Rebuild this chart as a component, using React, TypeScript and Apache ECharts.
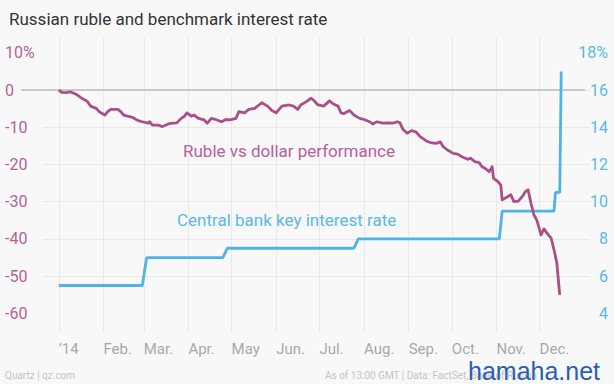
import React, { useEffect, useRef } from "react";
import * as echarts from "echarts";

const monthTickDates = [
  "2014-01-01", "2014-02-01", "2014-03-01", "2014-04-01", "2014-05-01", "2014-06-01",
  "2014-07-01", "2014-08-01", "2014-09-01", "2014-10-01", "2014-11-01", "2014-12-01",
];
const monthTickLabels = ["’14", "Feb.", "Mar.", "Apr.", "May", "Jun.", "Jul.", "Aug.", "Sep.", "Oct.", "Nov.", "Dec."];

const leftTicks = [-60, -50, -40, -30, -20, -10, 0, 10];
const rightTicks = [4, 6, 8, 10, 12, 14, 16, 18];

const rubleDates = [
  "2014-01-01", "2014-01-03", "2014-01-06", "2014-01-09", "2014-01-13", "2014-01-17", "2014-01-21", "2014-01-23",
  "2014-01-27", "2014-01-29", "2014-02-02", "2014-02-04", "2014-02-06", "2014-02-11", "2014-02-13", "2014-02-15",
  "2014-02-19", "2014-02-21", "2014-02-25", "2014-02-28", "2014-03-04", "2014-03-05", "2014-03-07", "2014-03-11",
  "2014-03-14", "2014-03-18", "2014-03-21", "2014-03-24", "2014-03-27", "2014-03-29", "2014-03-31", "2014-04-03",
  "2014-04-05", "2014-04-08", "2014-04-12", "2014-04-14", "2014-04-17", "2014-04-20", "2014-04-24", "2014-04-27",
  "2014-04-30", "2014-05-04", "2014-05-06", "2014-05-10", "2014-05-13", "2014-05-17", "2014-05-20", "2014-05-22",
  "2014-05-26", "2014-05-29", "2014-06-01", "2014-06-03", "2014-06-05", "2014-06-10", "2014-06-13", "2014-06-16",
  "2014-06-18", "2014-06-22", "2014-06-25", "2014-06-27", "2014-06-30", "2014-07-04", "2014-07-08", "2014-07-11",
  "2014-07-14", "2014-07-16", "2014-07-18", "2014-07-22", "2014-07-25", "2014-07-29", "2014-08-01", "2014-08-05",
  "2014-08-07", "2014-08-10", "2014-08-14", "2014-08-17", "2014-08-21", "2014-08-24", "2014-08-26", "2014-08-28",
  "2014-08-31", "2014-09-03", "2014-09-06", "2014-09-09", "2014-09-13", "2014-09-16", "2014-09-20", "2014-09-23",
  "2014-09-25", "2014-09-28", "2014-10-02", "2014-10-05", "2014-10-08", "2014-10-12", "2014-10-14", "2014-10-17",
  "2014-10-20", "2014-10-22", "2014-10-24", "2014-10-27", "2014-10-29", "2014-10-30", "2014-11-02", "2014-11-04",
  "2014-11-05", "2014-11-09", "2014-11-11", "2014-11-13", "2014-11-16", "2014-11-19", "2014-11-21", "2014-11-23",
  "2014-11-25", "2014-11-27", "2014-11-29", "2014-12-02", "2014-12-04", "2014-12-06", "2014-12-09", "2014-12-11",
  "2014-12-13", "2014-12-14", "2014-12-15",
];
const rubleValues = [
  0, -0.6, -0.7, -0.45, -1.1, -2.2, -3.1, -4.3,
  -4.9, -5.8, -6.7, -5.8, -5.2, -5.2, -5.8, -6.7,
  -7.1, -7.3, -8.2, -8.5, -8.9, -8.5, -9.4, -9.4,
  -9.8, -9.1, -8.9, -8.8, -7.6, -7.1, -6.1, -7.0,
  -6.7, -7.6, -8.0, -8.9, -7.6, -7.9, -8.5, -7.9,
  -8.0, -7.6, -5.8, -6.1, -5.2, -4.9, -4.0, -3.4,
  -4.3, -5.5, -6.1, -5.2, -4.3, -4.0, -4.3, -5.2,
  -4.0, -3.1, -2.2, -2.7, -4.0, -4.3, -2.9, -3.8,
  -4.3, -6.1, -6.3, -5.5, -6.7, -7.6, -7.9, -8.5,
  -9.1, -8.5, -8.9, -8.8, -8.9, -8.5, -8.8, -10.5,
  -11.6, -10.9, -11.2, -12.5, -13.6, -14.1, -14.3, -13.9,
  -15.2, -16.1, -17.0, -17.2, -17.9, -18.6, -18.3, -19.2,
  -19.5, -20.6, -21.0, -21.9, -20.6, -23.7, -24.6, -25.5,
  -29.5, -28.6, -28.1, -29.9, -29.9, -28.6, -27.3, -26.8,
  -30.4, -33.5, -34.9, -38.9, -37.3, -38.4, -39.8, -42.9,
  -46.5, -50.9, -55.0,
];

const rateDates = [
  "2014-01-01", "2014-02-28", "2014-03-03", "2014-04-25", "2014-04-28", "2014-07-25", "2014-07-28",
  "2014-11-03", "2014-11-05", "2014-12-11", "2014-12-12", "2014-12-15", "2014-12-16",
];
const rateValues = [5.5, 5.5, 7.0, 7.0, 7.5, 7.5, 8.0, 8.0, 9.5, 9.5, 10.5, 10.5, 17.0];

const BASE = Date.UTC(2014, 0, 1);
const dayOf = (s: string) => {
  const [y, m, d] = s.split("-").map(Number);
  return Math.round((Date.UTC(y, m - 1, d) - BASE) / 86400000);
};

const PINK = "#a9508a";
const PINK_TEXT = "#b5629a";
const BLUE = "#4fb3e6";
const BLUE_TEXT = "#5ab8e8";
const FONT = "Roboto, 'Helvetica Neue', Arial, sans-serif";

export default function App() {
  const ref = useRef<HTMLDivElement>(null);
  useEffect(() => {
    if (!ref.current) return;
    const chart = echarts.init(ref.current, null, { renderer: "svg" });
    const monthDays = monthTickDates.map(dayOf);
    const labelFor = (v: number) => {
      const i = monthDays.indexOf(Math.round(v));
      return i >= 0 ? monthTickLabels[i] : "";
    };
    const option: any = {
      animation: false,
      backgroundColor: "#f8f8f8",
      textStyle: { fontFamily: FONT },
      title: {
        text: "Russian ruble and benchmark interest rate",
        left: 4,
        top: 5,
        textStyle: { fontSize: 17, fontWeight: "normal", color: "#333333", fontFamily: FONT },
      },
      grid: { left: 43, right: 24, top: 38, bottom: 52 },
      xAxis: {
        type: "value",
        min: -11,
        max: 369,
        axisLine: { show: false },
        axisTick: { show: false, customValues: monthDays },
        axisLabel: {
          customValues: monthDays,
          formatter: (v: number) => labelFor(v),
          align: "left",
          color: "#a8a8a8",
          fontSize: 15,
          margin: 9,
          lineHeight: 16,
          fontFamily: FONT,
        },
        splitLine: { show: true, lineStyle: { color: "#e9e9e9", width: 1 } },
      },
      yAxis: [
        {
          type: "value",
          min: -65,
          max: 14,
          splitNumber: 8,
          axisLine: { show: false },
          axisTick: { show: false, customValues: leftTicks },
          axisLabel: {
            customValues: leftTicks,
            formatter: (v: number) => (v === 10 ? "10%" : String(v)),
            align: "left",
            margin: 38,
            color: PINK_TEXT,
            fontSize: 16,
            fontFamily: FONT,
          },
          splitLine: { show: true, showMinLine: false, showMaxLine: false, lineStyle: { color: "#e9e9e9", width: 1 } },
        },
        {
          type: "value",
          min: 3,
          max: 18.8,
          splitNumber: 8,
          position: "right",
          axisLine: { show: false },
          axisTick: { show: false, customValues: rightTicks },
          axisLabel: {
            customValues: rightTicks,
            formatter: (v: number) => (v === 18 ? "18%" : String(v)),
            align: "right",
            margin: 18,
            color: BLUE_TEXT,
            fontSize: 16,
            fontFamily: FONT,
          },
          splitLine: { show: false },
        },
      ],
      series: [
        {
          name: "Central bank key interest rate",
          type: "line",
          yAxisIndex: 1,
          showSymbol: false,
          symbol: "none",
          data: rateDates.map((d, i) => [dayOf(d), rateValues[i]]),
          lineStyle: { color: BLUE, width: 2.8 },
          z: 3,
        },
        {
          name: "Ruble vs dollar performance",
          type: "line",
          yAxisIndex: 0,
          showSymbol: false,
          symbol: "none",
          data: rubleDates.map((d, i) => [dayOf(d), rubleValues[i]]),
          lineStyle: { color: PINK, width: 2.8, join: "round" },
          z: 4,
        },
      ],
    };
    chart.setOption(option);
    const zeroY = chart.convertToPixel({ yAxisIndex: 0 }, 0) as number;
    chart.setOption({
      graphic: [
        {
          type: "line",
          z: 2,
          shape: { x1: 21, y1: zeroY, x2: 585, y2: zeroY },
          style: { stroke: "#bdbdbd", lineWidth: 1.5 },
          silent: true,
        },
        {
          type: "text",
          left: 183,
          top: 142,
          style: { text: "Ruble vs dollar performance", fill: PINK_TEXT, fontSize: 17, fontFamily: FONT },
        },
        {
          type: "text",
          left: 177,
          top: 211,
          style: { text: "Central bank key interest rate", fill: BLUE_TEXT, fontSize: 17, fontFamily: FONT },
        },
        {
          type: "text",
          left: 5,
          top: 370,
          style: { text: "Quartz | qz.com", fill: "#c4c4c4", fontSize: 10, fontFamily: FONT },
        },
        {
          type: "text",
          left: 325,
          top: 370,
          style: { text: "As of 13:00 GMT | Data: FactSet, Bank of Russia", fill: "#c4c4c4", fontSize: 10, fontFamily: FONT },
        },
        {
          type: "text",
          left: 468,
          top: 358,
          style: {
            text: "hamaha.net",
            fill: "#2b5fae",
            fontSize: 25,
            lineHeight: 24,
            fontFamily: "'Liberation Sans', Arial, sans-serif",
          },
        },
      ],
    });
    return () => chart.dispose();
  }, []);
  return (
    <div
      ref={ref}
      style={{ position: "fixed", left: 0, top: 0, width: 614, height: 384 }}
    />
  );
}
